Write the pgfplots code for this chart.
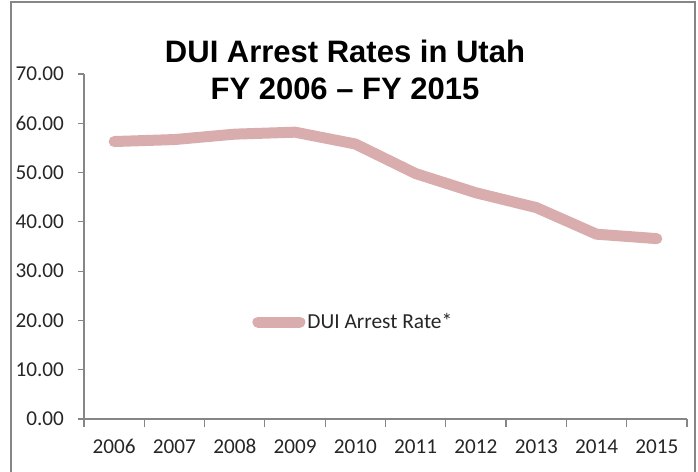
\documentclass[border=0pt]{standalone}
\usepackage{pgfplots}
\pgfplotsset{compat=1.18}
\usepackage{fontspec}
\setmainfont{Carlito}[Numbers=Lining]
\newfontfamily\arialfont{Liberation Sans}
\definecolor{linec}{RGB}{217,173,173}
\definecolor{axc}{RGB}{134,134,134}
\begin{document}
\begin{tikzpicture}
\begin{axis}[
  at={(0pt,0pt)}, anchor=south west,
  scale only axis, width=301.5pt, height=172.5pt,
  xmin=0.5, xmax=10.5, ymin=0, ymax=70,
  axis x line=bottom, axis y line=left,
  axis line style={-, draw=axc, line width=0.6pt},
  tick align=outside,
  xtick={1,...,10},
  xticklabels={2006,2007,2008,2009,2010,2011,2012,2013,2014,2015},
  major x tick style={draw=none},
  minor xtick={0.5,1.5,...,10.5},
  minor tick length=4pt,
  minor x tick style={draw=axc, line width=0.6pt},
  ytick={0,10,...,70},
  yticklabels={0.00,10.00,20.00,30.00,40.00,50.00,60.00,70.00},
  major tick length=3pt,
  major y tick style={draw=axc, line width=0.6pt},
  tick label style={font=\fontsize{10.6}{12}\selectfont, text=black!85},
  xticklabel style={anchor=base, yshift=-14pt},
  yticklabel style={xshift=-3.5pt},
  legend style={at={(0.2786,0.281)}, anchor=west, draw=none, fill=none,
    inner sep=0pt, font=\fontsize{10.7}{12}\selectfont, text=black!85,
    nodes={inner sep=1pt}},
  legend image code/.code={\draw[line width=5.5pt, line cap=round, draw=linec] (0pt,0pt) -- (21pt,0pt);},
  clip=false,
]
\addplot[draw=linec, line width=5.5pt, line cap=round, line join=round] coordinates {
  (1,56.3) (2,56.7) (3,57.8) (4,58.2) (5,55.8)
  (6,49.8) (7,45.9) (8,42.9) (9,37.5) (10,36.6)
};
\addlegendentry{DUI Arrest Rate*}
\end{axis}
\node[anchor=base, font=\arialfont\bfseries\fontsize{15.5}{18}\selectfont] at (130.5pt,178pt) {DUI Arrest Rates in Utah};
\node[anchor=base, font=\arialfont\bfseries\fontsize{15.5}{18}\selectfont] at (130.5pt,159.5pt) {FY 2006 – FY 2015};
\draw[axc, line width=1pt] (-36.5pt,-30pt) -- (-36.5pt,208.5pt) -- (305.5pt,208.5pt) -- (305.5pt,-30pt);
\pgfresetboundingbox
\path[use as bounding box] (-42pt,-26.5pt) rectangle (307pt,209.5pt);
\end{tikzpicture}
\end{document}
